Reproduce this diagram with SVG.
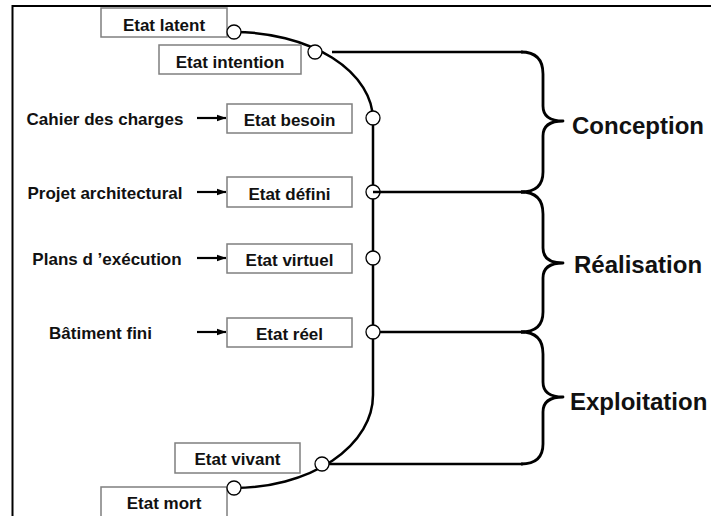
<svg xmlns="http://www.w3.org/2000/svg" width="711" height="516" viewBox="0 0 711 516">
  <style>
    .box rect { fill: #ffffff; stroke: #7f7f7f; stroke-width: 1.5; }
    .box text, .src { font-family: "Liberation Sans", Arial, sans-serif; font-weight: bold; font-size: 17px; fill: #111; }
    .box text { text-anchor: middle; }
    .src { text-anchor: middle; }
    .phase { font-family: "Liberation Sans", Arial, sans-serif; font-weight: bold; font-size: 24px; fill: #111; }
    .line { fill: none; stroke: #000; stroke-width: 2.5; }
    .brace { fill: none; stroke: #000; stroke-width: 2.8; stroke-linejoin: round; }
    .arrow { stroke: #000; stroke-width: 2.2; marker-end: url(#head); }
    .dot { fill: #fff; stroke: #000; stroke-width: 1.3; }
    .frame { fill: none; stroke: #000; stroke-width: 2; }
  </style>
  <defs>
    <marker id="head" markerWidth="10" markerHeight="8" refX="9.5" refY="4" orient="auto" markerUnits="userSpaceOnUse">
      <path d="M0,0.5 L10,4 L0,7.5 Z" fill="#000"/>
    </marker>
  </defs>

  <rect width="711" height="516" fill="#fff"/>
  <path class="frame" d="M12.5,516 L12.5,6 L711,6"/>

  <!-- lifecycle curve, horizontal links, arrows and braces -->
  <g id="connectors">
    <path class="line" d="M234,32 A139,88 0 0 1 373,120 L373,395 A139,93 0 0 1 234,488"/>
    <line class="line" x1="332" y1="52" x2="523" y2="52"/>
    <line class="line" x1="373" y1="192" x2="525" y2="192"/>
    <line class="line" x1="380" y1="332" x2="525" y2="332"/>
    <line class="line" x1="329" y1="464" x2="523" y2="464"/>

    <line class="arrow" x1="197" y1="118" x2="226" y2="118"/>
    <line class="arrow" x1="197" y1="192" x2="226" y2="192"/>
    <line class="arrow" x1="197" y1="258" x2="226" y2="258"/>
    <line class="arrow" x1="197" y1="332" x2="226" y2="332"/>

    <path class="brace" d="M521,52 Q543,52 543,74 L543,106 Q543,121 563,121 Q543,121 543,136 L543,172 Q543,192 521,192"/>
    <path class="brace" d="M521,192 Q543,192 543,214 L543,248 Q543,263 563,263 Q543,263 543,278 L543,312 Q543,332 521,332"/>
    <path class="brace" d="M521,332 Q543,332 543,354 L543,382 Q543,397 563,397 Q543,397 543,412 L543,444 Q543,464 521,464"/>
  </g>

  <g id="etat-latent" class="box">
    <rect x="101" y="8" width="126" height="29"/>
    <text x="164" y="30.5">Etat latent</text>
  </g>
  <circle class="dot" cx="234" cy="32" r="7"/>

  <g id="etat-intention" class="box">
    <rect x="159" y="45" width="142" height="29"/>
    <text x="230" y="67.5">Etat intention</text>
  </g>
  <circle class="dot" cx="315" cy="52" r="7"/>

  <g id="etat-besoin" class="box">
    <rect x="227" y="104" width="125" height="29"/>
    <text x="289.5" y="126">Etat besoin</text>
  </g>
  <circle class="dot" cx="373" cy="118" r="7"/>

  <g id="etat-defini" class="box">
    <rect x="227" y="177" width="125" height="30"/>
    <text x="289.5" y="200">Etat défini</text>
  </g>
  <circle class="dot" cx="373" cy="192" r="7"/>
  <line class="line" x1="373" y1="192" x2="381" y2="192"/>

  <g id="etat-virtuel" class="box">
    <rect x="227" y="244" width="125" height="29"/>
    <text x="289.5" y="266">Etat virtuel</text>
  </g>
  <circle class="dot" cx="373" cy="258" r="7"/>

  <g id="etat-reel" class="box">
    <rect x="227" y="318" width="125" height="29"/>
    <text x="289.5" y="340">Etat réel</text>
  </g>
  <circle class="dot" cx="373" cy="332" r="7"/>

  <g id="etat-vivant" class="box">
    <rect x="175" y="443" width="125" height="30"/>
    <text x="237.5" y="465">Etat vivant</text>
  </g>
  <circle class="dot" cx="322" cy="464" r="7"/>

  <g id="etat-mort" class="box">
    <rect x="101" y="487" width="126" height="32"/>
    <text x="164" y="509">Etat mort</text>
  </g>
  <circle class="dot" cx="234" cy="488" r="7"/>

  <!-- documents feeding each state -->
  <g id="cahier-des-charges"><text class="src" x="105" y="125">Cahier des charges</text></g>
  <g id="projet-architectural"><text class="src" x="105" y="199">Projet architectural</text></g>
  <g id="plans-execution"><text class="src" x="107" y="265">Plans d ’exécution</text></g>
  <g id="batiment-fini"><text class="src" x="100.5" y="339">Bâtiment fini</text></g>

  <!-- phases -->
  <g id="conception"><text class="phase" x="572" y="134">Conception</text></g>
  <g id="realisation"><text class="phase" x="574" y="273">Réalisation</text></g>
  <g id="exploitation"><text class="phase" x="570" y="410">Exploitation</text></g>
</svg>
